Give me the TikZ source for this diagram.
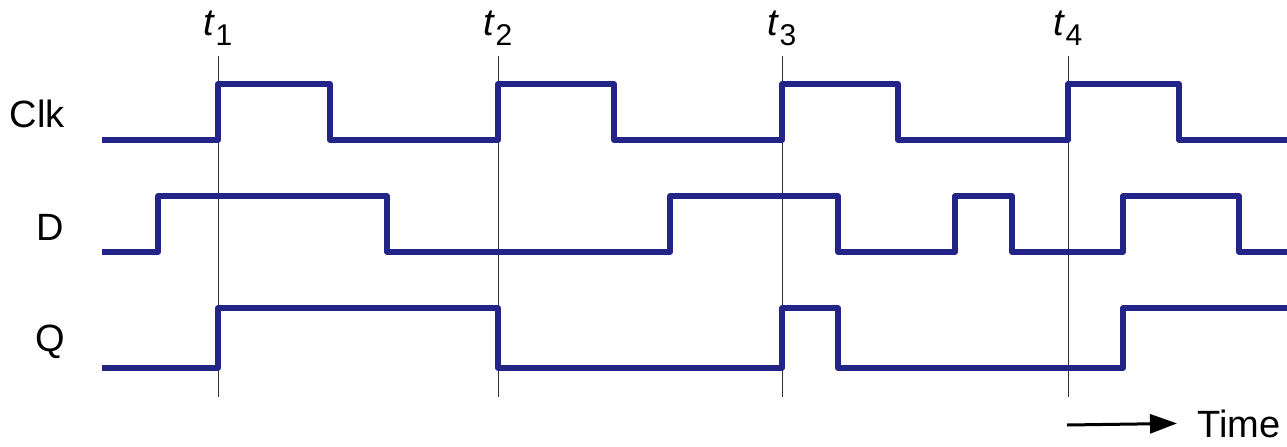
\documentclass[tikz,border=0pt]{standalone}
\usepackage{fontspec}
\setmainfont{Liberation Sans}
\usetikzlibrary{arrows.meta}
\definecolor{sigblue}{RGB}{35,36,135}
\tikzset{
  signal/.style={draw=sigblue, line width=2.65pt, line join=round},
  marker/.style={draw=black!80, line width=0.5pt},
  sname/.style={anchor=base east, inner sep=0pt, font=\fontsize{19}{19}\selectfont},
  tname/.style={anchor=base, inner sep=0pt, font=\fontsize{19}{19}\selectfont},
  timearrow/.style={draw=black, line width=1.5pt, -{Triangle[length=13.5pt,width=9.5pt]}}
}
\newcommand{\tlab}[1]{\textit{t}\raisebox{-5.3pt}{\fontsize{15}{15}\selectfont #1}}
\begin{document}
\begin{tikzpicture}[x=0.5pt, y=-0.5pt]
            \useasboundingbox (0,0) rectangle (1287,446);
            \foreach \x/\n in {218/1,498/2,782/3,1068/4} {
                \draw[marker] (\x,56) -- (\x,397);
                \node[tname] (t\n) at (\x,35) {\tlab{\n}};
            }
            \node[sname] (clk) at (65,127) {Clk};
            \node[sname] (d) at (64,240.5) {D};
            \node[sname] (q) at (65,351.5) {Q};

            \draw[signal] (102,140) -- (218,140) -- (218,84) -- (330,84) -- (330,140) -- (498,140) -- (498,84) -- (614,84) -- (614,140)
                -- (782,140) -- (782,84) -- (898,84) -- (898,140) -- (1068,140) -- (1068,84) -- (1179,84) -- (1179,140) -- (1287,140);
            \draw[signal] (102,252) -- (158,252) -- (158,196) -- (387,196) -- (387,252) -- (670,252) -- (670,196) -- (838,196) -- (838,252)
                -- (955,252) -- (955,196) -- (1012,196) -- (1012,252) -- (1123,252) -- (1123,196) -- (1239,196) -- (1239,252) -- (1287,252);
            \draw[signal] (102,368) -- (218,368) -- (218,308) -- (498,308) -- (498,368) -- (782,368) -- (782,308) -- (838,308) -- (838,368)
                -- (1123,368) -- (1123,308) -- (1287,308);

            \node[anchor=base west, inner sep=0pt, font=\fontsize{19}{19}\selectfont] (time) at (1197,437) {Time};
            \coordinate (arrowstart) at (1067,425);
            \draw[timearrow] (arrowstart) -- ([xshift=-10pt]time.west);
\end{tikzpicture}
\end{document}
